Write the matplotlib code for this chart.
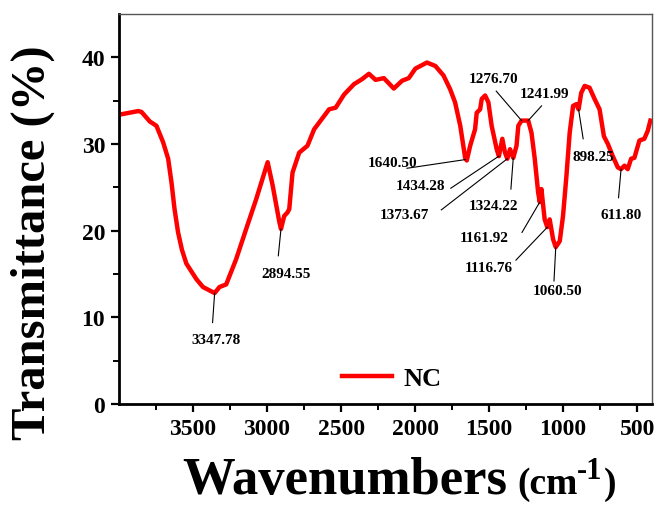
import matplotlib
matplotlib.use("Agg")
import matplotlib.pyplot as plt
import numpy as np

# FTIR spectrum of NC
wavenumber = [
    3993, 3870, 3848, 3792, 3747, 3702, 3668, 3645, 3625, 3601, 3575, 3545,
    3477, 3433, 3388, 3354, 3321, 3276, 3209, 3141, 3074, 2996, 2962, 2917,
    2906, 2884, 2862, 2850, 2828, 2783, 2727, 2682, 2581, 2536, 2480, 2413,
    2357, 2312, 2267, 2211, 2144, 2088, 2043, 1998, 1920, 1863, 1808, 1763,
    1730, 1695, 1662, 1651, 1628, 1595, 1584, 1561, 1550, 1527, 1505, 1483,
    1449, 1434, 1411, 1393, 1377, 1359, 1337, 1315, 1303, 1281, 1236, 1214,
    1192, 1169, 1158, 1147, 1125, 1107, 1091, 1068, 1050, 1023, 1001, 978,
    956, 933, 911, 896, 878, 855, 822, 788, 754, 725, 698, 665, 631, 609,
    586, 564, 541, 519, 485, 452, 429, 411,
]
transmittance = [
    33.4, 33.8, 33.7, 32.6, 32.1, 30.2, 28.3, 25.5, 22.5, 19.8, 17.8, 16.2,
    14.4, 13.5, 13.1, 12.8, 13.5, 13.8, 16.7, 20.2, 23.6, 27.9, 25.2, 21.0,
    20.2, 21.7, 22.1, 22.5, 26.7, 29.0, 29.8, 31.7, 34.0, 34.2, 35.7, 36.9,
    37.5, 38.1, 37.4, 37.6, 36.4, 37.3, 37.6, 38.7, 39.4, 39.0, 37.9, 36.3,
    34.8, 32.1, 28.4, 28.1, 29.8, 31.7, 33.6, 34.0, 35.2, 35.6, 34.8, 32.1,
    29.4, 28.6, 30.6, 29.0, 28.3, 29.4, 28.4, 29.8, 32.1, 32.7, 32.7, 31.3,
    28.3, 24.4, 23.3, 24.8, 21.3, 20.4, 21.3, 19.0, 18.1, 18.8, 21.7, 26.3,
    31.3, 34.4, 34.6, 34.0, 35.9, 36.7, 36.5, 35.2, 34.0, 30.9, 30.0, 28.6,
    27.3, 27.1, 27.5, 27.1, 28.3, 28.4, 30.4, 30.6, 31.5, 32.7,
]

# peak labels
peak_labels = [
    "3347.78", "2894.55", "1640.50", "1434.28", "1373.67", "1324.22",
    "1276.70", "1241.99", "1161.92", "1116.76", "1060.50", "898.25", "611.80",
]

# label text centre and leader line (start at peak, end near text)
label_pos = [
    (3343, 7.4), (2872, 15.1), (2155, 27.9), (1965, 25.2), (2070, 21.9),
    (1471, 22.9), (1471, 37.5), (1124, 35.8), (1532, 19.2), (1504, 15.8),
    (1041, 13.1), (799, 28.6), (608, 21.9),
]
line_start = [
    (3354, 12.8), (2906, 20.2), (1662, 28.2), (1434, 28.6), (1377, 28.3),
    (1337, 28.4), (1281, 32.7), (1236, 32.7), (1158, 23.3), (1107, 20.4),
    (1050, 18.1), (896, 34.0), (609, 27.1),
]
line_end = [
    (3368, 9.4), (2924, 17.1), (2055, 27.2), (1759, 24.9), (1823, 22.4),
    (1353, 24.8), (1452, 36.1), (1146, 34.4), (1278, 19.8), (1319, 16.6),
    (1062, 14.2), (865, 30.6), (626, 23.8),
]

# x label pieces: text, font size, baseline offset in px
xlabel_parts = [
    ("Wavenumbers", 38, 0),
    ("(cm", 27, 0),
    ("-1", 22, 15),
    (")", 27, 0),
]


def main() -> None:
    plt.rcParams["font.family"] = ["Liberation Serif", "DejaVu Serif"]
    plt.rcParams["font.weight"] = "bold"

    W, H = 660, 506
    fig = plt.figure(figsize=(6.6, 5.06), dpi=100)
    ax = fig.add_axes([119 / W, 101 / H, 533 / W, 390 / H])

    ax.plot(wavenumber, transmittance, color="red", linewidth=3.2,
            solid_joinstyle="round", label="NC")

    for text, pos, p0, p1 in zip(peak_labels, label_pos, line_start, line_end):
        ax.plot([p0[0], p1[0]], [p0[1], p1[1]], color="black", linewidth=0.8)
        ax.text(pos[0], pos[1], text, ha="center", va="center",
                fontsize=11, fontweight="bold")

    ax.set_xlim(4000, 400)
    ax.set_ylim(0, 45)
    ax.set_xticks([3500, 3000, 2500, 2000, 1500, 1000, 500])
    ax.set_xticks(np.arange(3750, 400, -500), minor=True)
    ax.set_yticks([0, 10, 20, 30, 40])
    ax.set_yticks([5, 15, 25, 35], minor=True)
    ax.tick_params(which="major", direction="out", length=6, width=1.6,
                   labelsize=17, pad=4, top=False, right=False)
    ax.tick_params(which="minor", direction="out", length=4, width=1.4,
                   top=False, right=False)
    for lab in ax.get_xticklabels() + ax.get_yticklabels():
        lab.set_fontweight("bold")

    for side in ("left", "bottom"):
        ax.spines[side].set_linewidth(2.0)
        ax.spines[side].set_color("black")
    for side in ("top", "right"):
        ax.spines[side].set_linewidth(1.0)
        ax.spines[side].set_color("#555555")

    # y label
    fig.text(33 / W, (H - 243) / H, "Transmittance (%)", rotation=90,
             ha="center", va="center", fontsize=35, fontweight="bold")

    # x label built from pieces so "(cm" can be smaller than the main word
    renderer = fig.canvas.get_renderer()
    x_px, base_px = 182, H - 494
    gaps = [10, 0, 1, 0]
    for (s, size, dy), gap in zip(xlabel_parts, gaps):
        t = fig.text(x_px / W, (base_px + dy) / H, s, ha="left",
                     va="baseline", fontsize=size, fontweight="bold")
        ext = t.get_window_extent(renderer)
        x_px = ext.x1 + gap

    ax.legend(loc="center", bbox_to_anchor=(0.512, 0.065), frameon=False,
              handlelength=1.9, handletextpad=0.45,
              prop={"weight": "bold", "size": 19})

    fig.savefig("out.png", dpi=100)
    plt.close(fig)


if __name__ == "__main__":
    main()
